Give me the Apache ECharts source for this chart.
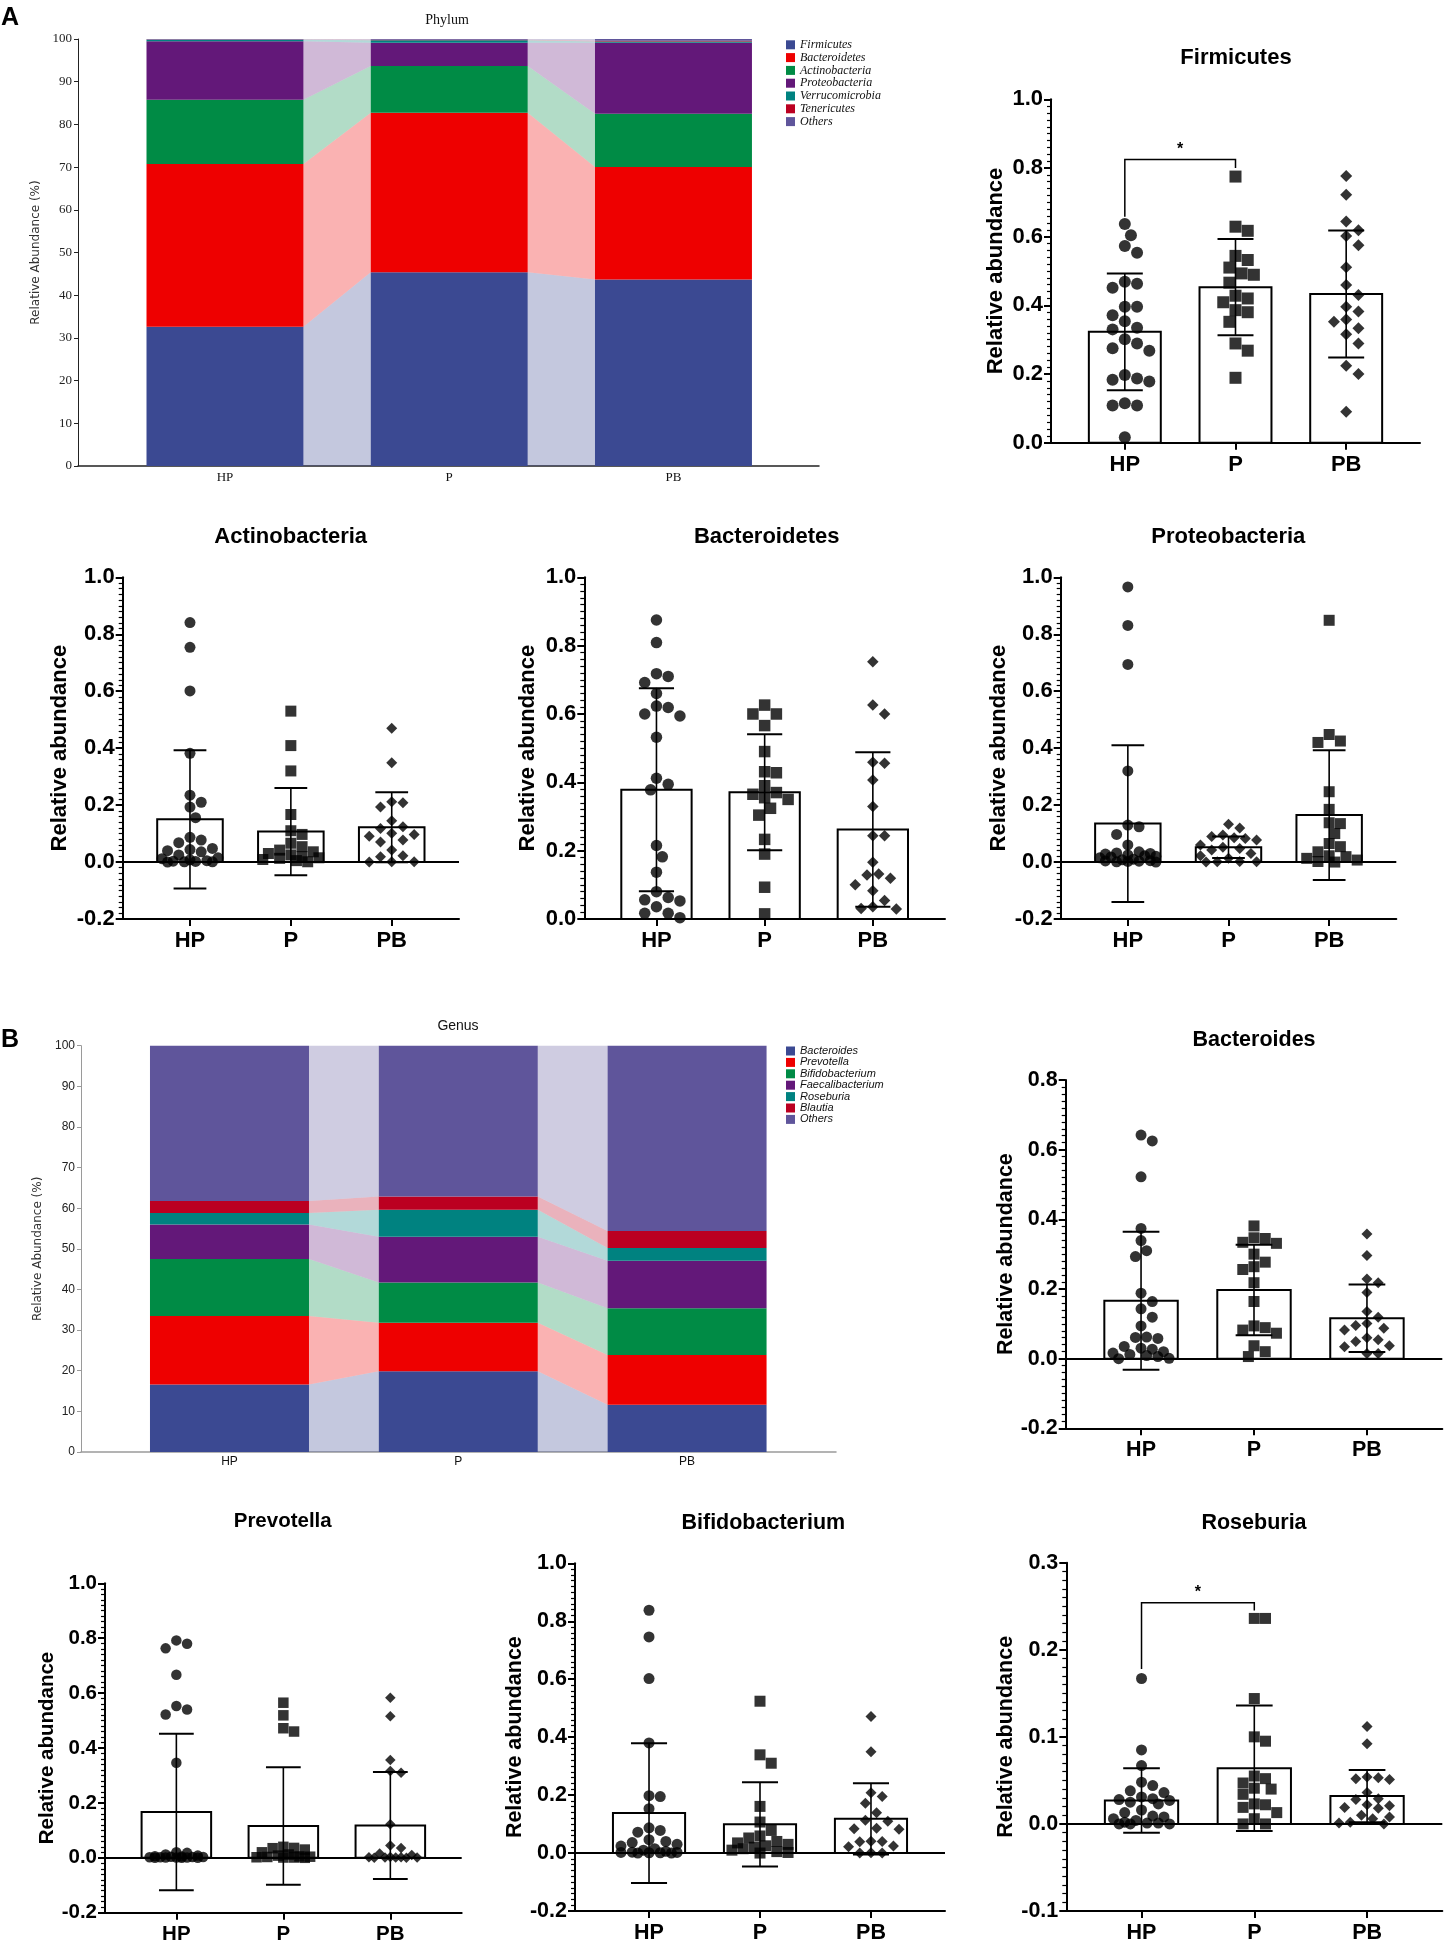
<!DOCTYPE html>
<html><head><meta charset="utf-8">
<script src="https://cdn.jsdelivr.net/npm/echarts@6/dist/echarts.min.js"></script>
<style>html,body{margin:0;padding:0;background:#fff}#c{width:1449px;height:1946px}</style>
</head><body><div id="c"></div>
<script>
const groups = ['HP', 'P', 'PB'];

// ---- Stacked composition charts (percent) ----
const phylumNames = ['Firmicutes','Bacteroidetes','Actinobacteria','Proteobacteria','Verrucomicrobia','Tenericutes','Others'];
const phylumHP = [32.6, 38.1, 15.1, 13.7, 0.3, 0.1, 0.1];
const phylumP  = [45.4, 37.3, 11.0, 5.4, 0.6, 0.1, 0.2];
const phylumPB = [43.7, 26.3, 12.5, 16.6, 0.3, 0.2, 0.4];

const genusNames = ['Bacteroides','Prevotella','Bifidobacterium','Faecalibacterium','Roseburia','Blautia','Others'];
const genusHP = [16.6, 16.9, 14.0, 8.5, 2.8, 3.0, 38.2];
const genusP  = [19.9, 11.9, 9.9, 11.3, 6.6, 3.3, 37.1];
const genusPB = [11.6, 12.3, 11.5, 11.7, 3.1, 4.2, 45.6];

const stackColors = ['#3B4992','#EE0000','#008B45','#631879','#008280','#BB0021','#5F559B'];

// ---- Dot plots (relative abundance) ----
const firmicutesHP = [0.637,0.604,0.573,0.553,0.469,0.463,0.451,0.396,0.396,0.371,0.354,0.335,0.330,0.301,0.289,0.275,0.268,0.197,0.187,0.183,0.178,0.115,0.108,0.108,0.016];
const firmicutesP  = [0.775,0.629,0.617,0.544,0.532,0.510,0.493,0.489,0.466,0.428,0.420,0.409,0.386,0.380,0.352,0.289,0.268,0.189];
const firmicutesPB = [0.777,0.722,0.644,0.619,0.602,0.575,0.511,0.459,0.430,0.396,0.382,0.359,0.352,0.333,0.316,0.289,0.224,0.200,0.090];
const firmicutesMean = [0.323, 0.453, 0.433];
const firmicutesSD   = [0.170, 0.140, 0.185];
const firmicutesSig  = [0.658, 0.825, 0.800];

const actinoHP = [0.841,0.754,0.601,0.382,0.235,0.210,0.193,0.156,0.087,0.077,0.068,0.048,0.044,0.040,0.036,0.025,0.015,0.012,0.008,0.005,0.003,0.002,0.001,0.001,0.000];
const actinoP  = [0.530,0.409,0.320,0.167,0.110,0.097,0.066,0.054,0.042,0.036,0.030,0.025,0.019,0.015,0.013,0.009,0.005,0.001];
const actinoPB = [0.470,0.349,0.212,0.208,0.193,0.145,0.124,0.118,0.101,0.097,0.091,0.077,0.070,0.042,0.022,0.019,0.001,0.001,0.000];
const actinoMean = [0.150, 0.107, 0.122];
const actinoSD   = [0.243, 0.153, 0.123];

const bacteroidetesHP = [0.875,0.809,0.718,0.710,0.692,0.660,0.623,0.619,0.600,0.594,0.532,0.412,0.394,0.378,0.215,0.182,0.137,0.080,0.063,0.056,0.053,0.036,0.017,0.017,0.004];
const bacteroidetesP  = [0.626,0.600,0.600,0.566,0.490,0.431,0.428,0.390,0.370,0.365,0.355,0.350,0.324,0.304,0.233,0.190,0.093,0.015];
const bacteroidetesPB = [0.753,0.626,0.600,0.459,0.456,0.407,0.329,0.244,0.244,0.166,0.132,0.129,0.119,0.100,0.083,0.054,0.036,0.031,0.029];
const bacteroidetesMean = [0.378, 0.371, 0.262];
const bacteroidetesSD   = [0.297, 0.170, 0.226];

const proteoHP = [0.966,0.831,0.694,0.320,0.130,0.124,0.097,0.060,0.036,0.032,0.030,0.028,0.025,0.022,0.020,0.018,0.015,0.010,0.008,0.005,0.004,0.003,0.002,0.001,0.000];
const proteoP  = [0.133,0.120,0.095,0.090,0.085,0.083,0.077,0.060,0.052,0.048,0.042,0.030,0.022,0.013,0.002,0.001,0.001,0.000];
const proteoPB = [0.849,0.448,0.425,0.420,0.247,0.185,0.138,0.135,0.100,0.065,0.054,0.036,0.022,0.019,0.013,0.007,0.002,0.000];
const proteoMean = [0.135, 0.052, 0.165];
const proteoSD   = [0.275, 0.038, 0.228];

const bacteroidesHP = [0.642,0.625,0.522,0.374,0.339,0.310,0.293,0.188,0.164,0.143,0.119,0.094,0.062,0.061,0.058,0.035,0.030,0.027,0.020,0.016,0.012,0.009,0.006,0.001,0.000];
const bacteroidesP  = [0.381,0.347,0.345,0.334,0.331,0.300,0.277,0.264,0.256,0.218,0.164,0.094,0.089,0.082,0.073,0.037,0.020,0.006];
const bacteroidesPB = [0.358,0.296,0.229,0.218,0.190,0.135,0.119,0.101,0.095,0.087,0.082,0.060,0.054,0.049,0.037,0.034,0.015,0.015];
const bacteroidesMean = [0.166, 0.197, 0.116];
const bacteroidesSD   = [0.198, 0.130, 0.097];

const prevotellaHP = [0.792,0.780,0.763,0.667,0.553,0.540,0.522,0.346,0.020,0.018,0.012,0.008,0.006,0.005,0.004,0.003,0.003,0.002,0.002,0.001,0.001,0.001,0.000,0.000,0.000];
const prevotellaP  = [0.565,0.519,0.472,0.460,0.040,0.036,0.035,0.030,0.020,0.012,0.008,0.005,0.004,0.003,0.002,0.001,0.001,0.000];
const prevotellaPB = [0.583,0.516,0.356,0.316,0.310,0.122,0.045,0.036,0.016,0.010,0.003,0.002,0.002,0.001,0.001,0.001,0.000,0.000];
const prevotellaMean = [0.167, 0.116, 0.118];
const prevotellaSD   = [0.285, 0.214, 0.195];

const bifidoHP = [0.838,0.746,0.602,0.380,0.198,0.195,0.153,0.087,0.078,0.072,0.046,0.040,0.036,0.030,0.024,0.015,0.010,0.006,0.003,0.002,0.002,0.001,0.001,0.000,0.000];
const bifidoP  = [0.524,0.339,0.310,0.161,0.107,0.078,0.059,0.052,0.040,0.035,0.030,0.025,0.020,0.015,0.010,0.005,0.002,0.000];
const bifidoPB = [0.471,0.350,0.208,0.195,0.172,0.139,0.113,0.110,0.086,0.084,0.082,0.041,0.040,0.039,0.024,0.022,0.001,0.000,0.000];
const bifidoMean = [0.138, 0.099, 0.118];
const bifidoSD   = [0.241, 0.145, 0.123];

const roseburiaHP = [0.167,0.085,0.067,0.048,0.044,0.038,0.036,0.031,0.029,0.028,0.027,0.025,0.023,0.016,0.013,0.009,0.008,0.006,0.004,0.002,0.001,0.001,0.000,0.000,0.000];
const roseburiaP  = [0.236,0.236,0.144,0.100,0.095,0.055,0.052,0.047,0.041,0.040,0.034,0.023,0.022,0.019,0.013,0.006,0.000,0.000];
const roseburiaPB = [0.112,0.092,0.054,0.053,0.052,0.051,0.036,0.029,0.028,0.022,0.021,0.019,0.018,0.010,0.008,0.006,0.002,0.001,0.000];
const roseburiaMean = [0.027, 0.064, 0.032];
const roseburiaSD   = [0.037, 0.072, 0.030];
const roseburiaSig  = [0.178, 0.254, 0.245];

// ---------------- layout / styling ----------------
const SANS = "'Liberation Sans', Arial, sans-serif";
const NARROW = "'Liberation Sans Narrow', 'Liberation Sans', Arial, sans-serif";
const SERIF = "'Liberation Serif', 'Times New Roman', serif";

const panels = [
  {title:'Firmicutes', rect:[1051,99.3,369,343.4], y:[0,1,0.2], g:[firmicutesHP,firmicutesP,firmicutesPB], mean:firmicutesMean, sd:firmicutesSD, sym:['circle','rect','diamond'], size:12, fs:22, nameGap:44, tpos:[1236,58], sig:firmicutesSig},
  {title:'Actinobacteria', rect:[122.7,577.3,336.3,341.7], y:[-0.2,1,0.2], g:[actinoHP,actinoP,actinoPB], mean:actinoMean, sd:actinoSD, sym:['circle','rect','diamond'], size:11, fs:22, nameGap:52, tpos:[290.7,536.7]},
  {title:'Bacteroidetes', rect:[584.3,577.3,360.7,341.7], y:[0,1,0.2], g:[bacteroidetesHP,bacteroidetesP,bacteroidetesPB], mean:bacteroidetesMean, sd:bacteroidetesSD, sym:['circle','rect','diamond'], size:11.5, fs:22, nameGap:45, tpos:[766.7,536.7]},
  {title:'Proteobacteria', rect:[1060.7,577.3,335.6,341.7], y:[-0.2,1,0.2], g:[proteoHP,proteoP,proteoPB], mean:proteoMean, sd:proteoSD, sym:['circle','diamond','rect'], size:11, fs:22, nameGap:51, tpos:[1228.3,536.7]},
  {title:'Bacteroides', rect:[1065.7,1080,376.6,348.3], y:[-0.2,0.8,0.2], g:[bacteroidesHP,bacteroidesP,bacteroidesPB], mean:bacteroidesMean, sd:bacteroidesSD, sym:['circle','rect','diamond'], size:11, fs:21.5, nameGap:49, tpos:[1254,1040]},
  {title:'Prevotella', rect:[105,1583.3,356.7,329.4], y:[-0.2,1,0.2], g:[prevotellaHP,prevotellaP,prevotellaPB], mean:prevotellaMean, sd:prevotellaSD, sym:['circle','rect','diamond'], size:10.5, fs:20.5, nameGap:46, tpos:[282.7,1521]},
  {title:'Bifidobacterium', rect:[575,1563.3,370,347.7], y:[-0.2,1,0.2], g:[bifidoHP,bifidoP,bifidoPB], mean:bifidoMean, sd:bifidoSD, sym:['circle','rect','diamond'], size:11, fs:21.5, nameGap:49, tpos:[763.3,1522.7]},
  {title:'Roseburia', rect:[1066.3,1562.7,376,348.3], y:[-0.1,0.3,0.1], g:[roseburiaHP,roseburiaP,roseburiaPB], mean:roseburiaMean, sd:roseburiaSD, sym:['circle','rect','diamond'], size:11, fs:21.5, nameGap:49, tpos:[1254,1522.7], sig:roseburiaSig}
];

const XMIN = -0.667, XMAX = 2.667, BARHW = 0.325, CAPHW = 0.1625;

const grid = [], xAxis = [], yAxis = [], series = [], graphic = [];

// ---- stacked charts ----
function addStack(gi, names, cols, rect, xr, hw, cfg) {
  grid.push({left:rect[0], top:rect[1], width:rect[2], height:rect[3], containLabel:false});
  xAxis.push({gridIndex:gi, type:'value', min:xr[0], max:xr[1],
    axisLine:{show:true, onZero:false, lineStyle:{color:cfg.axisColor, width:cfg.xLineW}},
    axisTick:{show:false},
    splitLine:{show:false},
    axisLabel:{customValues:[0,1,2], formatter:v=>groups[Math.round(v)], fontFamily:cfg.font, fontSize:cfg.xfs, color:'#111', margin:cfg.xMargin}
  });
  yAxis.push({gridIndex:gi, type:'value', min:0, max:100, interval:10,
    axisLine:{show:true, onZero:false, lineStyle:{color:cfg.axisColor, width:1}},
    axisTick:{show:true, length:4, lineStyle:{color:cfg.axisColor}},
    splitLine:{show:false},
    axisLabel:{fontFamily:cfg.font, fontSize:cfg.yfs, color:'#222', margin:6},
    name:'Relative Abundance (%)', nameLocation:'middle', nameRotate:90, nameGap:cfg.nameGap,
    nameTextStyle:{fontFamily:"'DejaVu Sans', Verdana, sans-serif", fontSize:12, color:'#333'}
  });
  const cum = cols.map(() => 0);
  names.forEach((nm, k) => {
    const data = cols.map((col, i) => { const b = cum[i]; cum[i] += col[k]; return [i, b, cum[i]]; });
    series.push({type:'custom', name:nm, xAxisIndex:gi, yAxisIndex:gi, data, encode:{x:0, y:[1,2]},
      itemStyle:{color:stackColors[k]}, silent:true, z:2,
      renderItem:(params, api) => {
        const i = api.value(0), b = api.value(1), t = api.value(2);
        const a = api.coord([i - hw, t]), c = api.coord([i + hw, b]);
        const ch = [{type:'rect', shape:{x:a[0], y:a[1], width:c[0]-a[0], height:c[1]-a[1]}, style:{fill:stackColors[k]}}];
        if (i < data.length - 1) {
          const n = data[i + 1];
          ch.push({type:'polygon', shape:{points:[api.coord([i+hw, t]), api.coord([i+1-hw, n[2]]), api.coord([i+1-hw, n[1]]), api.coord([i+hw, b])]},
            style:{fill:stackColors[k], opacity:0.3}});
        }
        return {type:'group', children:ch};
      }});
  });
}

addStack(0, phylumNames, [phylumHP, phylumP, phylumPB], [78,39,741,427], [-0.6555, 2.649], 0.35,
  {axisColor:'#222', xLineW:1.5, font:SERIF, xfs:13, yfs:13, xMargin:5, nameGap:26});
addStack(1, genusNames, [genusHP, genusP, genusPB], [81,1045.7,755,406.3], [-0.649, 2.651], 0.3475,
  {axisColor:'#9a9a9a', xLineW:1.5, font:NARROW, xfs:12, yfs:12, xMargin:4, nameGap:29});

// ---- dot plots ----
const scatterIds = [];
panels.forEach((p, j) => {
  const gi = j + 2;
  grid.push({left:p.rect[0], top:p.rect[1], width:p.rect[2], height:p.rect[3], containLabel:false});
  const lab = {fontFamily:SANS, fontWeight:'bold', fontSize:p.fs, color:'#000'};
  xAxis.push({gridIndex:gi, type:'value', min:XMIN, max:XMAX,
    axisLine:{show:true, onZero:false, lineStyle:{color:'#000', width:2}},
    axisTick:{show:true, customValues:[0,1,2], length:7, lineStyle:{color:'#000', width:2}},
    splitLine:{show:false},
    axisLabel:Object.assign({customValues:[0,1,2], formatter:v=>groups[Math.round(v)], margin:11}, lab)
  });
  yAxis.push({gridIndex:gi, type:'value', min:p.y[0], max:p.y[1], interval:p.y[2],
    axisLine:{show:true, onZero:false, lineStyle:{color:'#000', width:2}},
    axisTick:{show:true, length:7, lineStyle:{color:'#000', width:2}},
    minorTick:{show:true, splitNumber:10, length:4, lineStyle:{color:'#000', width:1.2}},
    splitLine:{show:false}, minorSplitLine:{show:false},
    axisLabel:Object.assign({formatter:v=>(Math.abs(v) < 1e-9 ? 0 : v).toFixed(1), margin:8}, lab),
    name:'Relative abundance', nameLocation:'middle', nameRotate:90, nameGap:p.nameGap,
    nameTextStyle:{fontFamily:SANS, fontWeight:'bold', fontSize:p.fs, color:'#000'}
  });
  const md = p.mean.map((m, i) => [i, m, p.sd[i]]);
  const barSeries = {type:'custom', xAxisIndex:gi, yAxisIndex:gi, data:md, encode:{x:0, y:1}, silent:true, z:2,
    renderItem:(params, api) => {
      const i = api.value(0), m = api.value(1);
      const a = api.coord([i - BARHW, m]), c = api.coord([i + BARHW, 0]);
      return {type:'rect', shape:{x:a[0], y:a[1], width:c[0]-a[0], height:c[1]-a[1]}, style:{fill:'#fff', stroke:'#000', lineWidth:2}};
    }};
  if (p.y[0] < 0) {
    barSeries.markLine = {silent:true, symbol:'none', animation:false, label:{show:false},
      lineStyle:{color:'#000', width:2, type:'solid'}, data:[{yAxis:0}]};
  }
  series.push(barSeries);
  series.push({type:'custom', xAxisIndex:gi, yAxisIndex:gi, data:md, encode:{x:0, y:1}, silent:true, z:3,
    renderItem:(params, api) => {
      const i = api.value(0), m = api.value(1), s = api.value(2);
      const top = api.coord([i, m + s]), bot = api.coord([i, m - s]);
      const tl = api.coord([i - CAPHW, m + s]), tr = api.coord([i + CAPHW, m + s]);
      const bl = api.coord([i - CAPHW, m - s]), br = api.coord([i + CAPHW, m - s]);
      return {type:'group', children:[
        {type:'line', shape:{x1:top[0], y1:top[1], x2:bot[0], y2:bot[1]}, style:{stroke:'#000', lineWidth:1.6}},
        {type:'line', shape:{x1:tl[0], y1:tl[1], x2:tr[0], y2:tr[1]}, style:{stroke:'#000', lineWidth:2}},
        {type:'line', shape:{x1:bl[0], y1:bl[1], x2:br[0], y2:br[1]}, style:{stroke:'#000', lineWidth:2}}
      ]};
    }});
  p.g.forEach((vals, k) => {
    const id = 'sc_' + j + '_' + k;
    scatterIds.push({id, j, k, gi});
    series.push({id, type:'scatter', xAxisIndex:gi, yAxisIndex:gi, symbol:p.sym[k], symbolSize:p.size,
      itemStyle:{color:'#000'}, silent:true, z:4, data:vals.map(v => [k, v])});
  });
  if (p.sig) {
    const sg = p.sig;
    series.push({type:'custom', xAxisIndex:gi, yAxisIndex:gi, data:[[0.5, sg[1]]], encode:{x:0, y:1}, silent:true, z:4,
      renderItem:(params, api) => {
        const l0 = api.coord([0, sg[0]]), l1 = api.coord([0, sg[1]]), r1 = api.coord([1, sg[1]]), r0 = api.coord([1, sg[2]]);
        const mid = api.coord([0.5, sg[1]]);
        return {type:'group', children:[
          {type:'polyline', shape:{points:[l0, l1, r1, r0]}, style:{stroke:'#000', lineWidth:1.5, fill:null}},
          {type:'text', x:mid[0], y:mid[1] - 10, style:{text:'*', font:"bold 16px " + SANS, fill:'#000', align:'center', verticalAlign:'middle', textAlign:'center', textVerticalAlign:'middle'}}
        ]};
      }});
  }
  graphic.push({type:'text', x:p.tpos[0], y:p.tpos[1], style:{text:p.title, font:'bold ' + p.fs + 'px ' + SANS, fill:'#000', align:'center', verticalAlign:'middle', textAlign:'center', textVerticalAlign:'middle'}});
});

graphic.push({type:'text', x:447, y:20, style:{text:'Phylum', font:'14px ' + SERIF, fill:'#111', align:'center', verticalAlign:'middle', textAlign:'center', textVerticalAlign:'middle'}});
graphic.push({type:'text', x:458, y:1026, style:{text:'Genus', font:'14px ' + NARROW, fill:'#111', align:'center', verticalAlign:'middle', textAlign:'center', textVerticalAlign:'middle'}});
graphic.push({type:'text', x:1, y:18, style:{text:'A', font:'bold 25px ' + SANS, fill:'#000', align:'left', verticalAlign:'middle', textAlign:'left', textVerticalAlign:'middle'}});
graphic.push({type:'text', x:1, y:1040, style:{text:'B', font:'bold 25px ' + SANS, fill:'#000', align:'left', verticalAlign:'middle', textAlign:'left', textVerticalAlign:'middle'}});

const legend = [
  {data:phylumNames, orient:'vertical', left:781, top:33.8, itemWidth:9, itemHeight:9, itemGap:0.8, icon:'rect', selectedMode:false,
   textStyle:{fontFamily:SERIF, fontStyle:'italic', fontSize:12, color:'#111'}},
  {data:genusNames, orient:'vertical', left:781, top:1040.5, itemWidth:9, itemHeight:9, itemGap:0.4, icon:'rect', selectedMode:false,
   textStyle:{fontFamily:NARROW, fontStyle:'italic', fontSize:11, color:'#111'}}
];

const chart = echarts.init(document.getElementById('c'), null, {width:1449, height:1946});
chart.setOption({animation:false, backgroundColor:'#fff', grid, xAxis, yAxis, series, graphic, legend});

// ---- second pass: beeswarm jitter computed in pixel space via the axes ----
function swarm(ys, size, maxHalf) {
  const n = ys.length, order = [...Array(n).keys()].sort((a, b) => ys[a] - ys[b]);
  const placed = [], xs = new Array(n);
  const step = size * 0.5;
  const cands = [0];
  for (let k = 1; k * step <= maxHalf; k++) cands.push(k * step, -k * step);
  for (const i of order) {
    let best = 0, bestD = -1;
    for (const c of cands) {
      let md = Infinity;
      for (const q of placed) { const d = Math.hypot(q[0] - c, q[1] - ys[i]); if (d < md) md = d; }
      if (md >= size) { best = c; break; }
      if (md > bestD) { bestD = md; best = c; }
    }
    xs[i] = best; placed.push([best, ys[i]]);
  }
  return xs;
}
const upd = scatterIds.map(s => {
  const p = panels[s.j], vals = p.g[s.k];
  const x0 = chart.convertToPixel({gridIndex:s.gi}, [0, 0])[0];
  const x1 = chart.convertToPixel({gridIndex:s.gi}, [1, 0])[0];
  const ppu = x1 - x0;
  const ys = vals.map(v => chart.convertToPixel({gridIndex:s.gi}, [s.k, v])[1]);
  const xs = swarm(ys, p.size * 1.02, BARHW * ppu - p.size * 0.35);
  return {id:s.id, data:vals.map((v, i) => [s.k + xs[i] / ppu, v])};
});
chart.setOption({series:upd});
</script>
</body></html>
